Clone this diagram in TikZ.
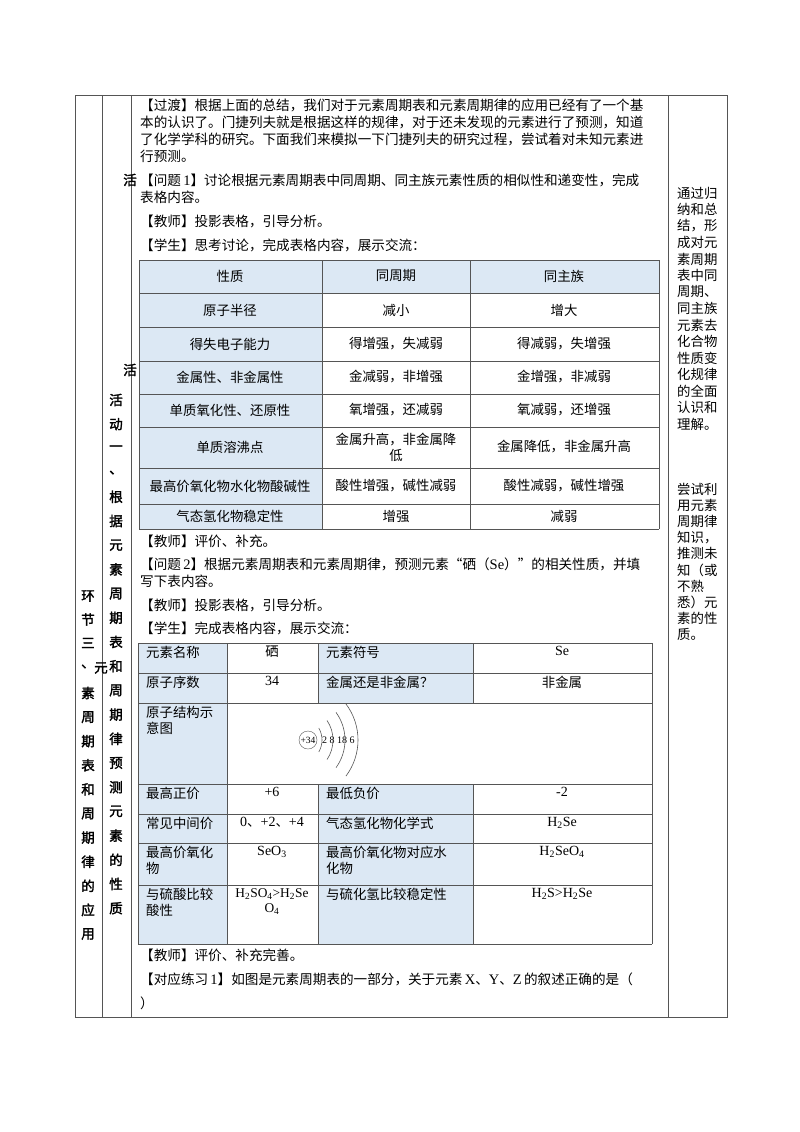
\documentclass[tikz,border=0pt]{standalone}
\usepackage{fontspec}
\usetikzlibrary{calc}
\setmainfont{Noto Sans CJK SC}
\newfontfamily\cjkb[FakeBold=2]{Noto Sans CJK SC}
\newfontfamily\lat{Liberation Serif}
\definecolor{cellblue}{HTML}{DCE8F4}
\definecolor{rule}{HTML}{555555}
\begin{document}
\begin{tikzpicture}[x=1pt,y=-1pt,
  txt/.style={anchor=west,inner sep=0,font=\fontsize{13.6}{16}\selectfont},
  cc/.style={anchor=center,inner sep=0,font=\fontsize{13.4}{16}\selectfont,align=center},
  ct/.style={anchor=north,inner sep=0,font=\fontsize{13.4}{16}\selectfont,align=center},
  lt/.style={anchor=north west,inner sep=0,font=\fontsize{13.4}{16}\selectfont,align=left},
  vch/.style={anchor=center,inner sep=0,font=\cjkb\fontsize{13.5}{16}\selectfont},
  rc/.style={anchor=west,inner sep=0,font=\fontsize{13.4}{16}\selectfont},
  gl/.style={draw=rule,line width=0.8pt}]
\useasboundingbox (0,0) rectangle (800,1132);
\fill[white] (0,0) rectangle (800,1132);
% outer frame
\draw[gl] (75,95) rectangle (727,1017);
\draw[gl] (102,95) -- (102,1017);
\draw[gl] (131,95) -- (131,1017);
\draw[gl] (668,95) -- (668,1017);
% body text
\node[txt] (l1) at (140,105) {【过渡】根据上面的总结，我们对于元素周期表和元素周期律的应用已经有了一个基};
\node[txt] (l2) at (140,122) {本的认识了。门捷列夫就是根据这样的规律，对于还未发现的元素进行了预测，知道};
\node[txt] (l3) at (140,139) {了化学学科的研究。下面我们来模拟一下门捷列夫的研究过程，尝试着对未知元素进};
\node[txt] (l4) at (140,156) {行预测。};
\node[vch] (huo1) at (130,180) {活};
\node[txt] (l5) at (140,180) {【问题\,{\lat\fontsize{14.5}{16}\selectfont 1}】讨论根据元素周期表中同周期、同主族元素性质的相似性和递变性，完成};
\node[txt] (l6) at (140,197) {表格内容。};
\node[txt] (l7) at (140,221) {【教师】投影表格，引导分析。};
\node[txt] (l8) at (140,245) {【学生】思考讨论，完成表格内容，展示交流：};
% table 1
\fill[cellblue] (139,260) rectangle (659,293);
\fill[cellblue] (139,293) rectangle (322,529);
\foreach \y in {260,293,327,361,394,427,468,504,529} \draw[gl] (139,\y) -- (659,\y);
\foreach \x in {139,322,470,659} \draw[gl] (\x,260) -- (\x,529);
\node[cc] (a1) at (230,276) {性质};
\node[cc] (a2) at (396,276) {同周期};
\node[cc] (a3) at (564,276) {同主族};
\node[cc] (b1) at (230,310) {原子半径};
\node[cc] (b2) at (396,310) {减小};
\node[cc] (b3) at (564,310) {增大};
\node[cc] (c1) at (230,344) {得失电子能力};
\node[cc] (c2) at (396,344) {得增强，失减弱};
\node[cc] (c3) at (564,344) {得减弱，失增强};
\node[cc] (d1) at (230,377) {金属性、非金属性};
\node[cc] (d2) at (396,377) {金减弱，非增强};
\node[cc] (d3) at (564,377) {金增强，非减弱};
\node[cc] (e1) at (230,410) {单质氧化性、还原性};
\node[cc] (e2) at (396,410) {氧增强，还减弱};
\node[cc] (e3) at (564,410) {氧减弱，还增强};
\node[cc] (f1) at (230,447) {单质溶沸点};
\node[cc] (f2) at (396,447) {金属升高，非金属降\\低};
\node[cc] (f3) at (564,447) {金属降低，非金属升高};
\node[cc] (g1) at (230,486) {最高价氧化物水化物酸碱性};
\node[cc] (g2) at (396,486) {酸性增强，碱性减弱};
\node[cc] (g3) at (564,486) {酸性减弱，碱性增强};
\node[cc] (h1) at (230,516) {气态氢化物稳定性};
\node[cc] (h2) at (396,516) {增强};
\node[cc] (h3) at (564,516) {减弱};
\node[vch] (huo2) at (130,370) {活};
\node[txt] (m1) at (140,541) {【教师】评价、补充。};
\node[txt] (m2) at (140,564) {【问题\,{\lat\fontsize{14.5}{16}\selectfont 2}】根据元素周期表和元素周期律，预测元素“硒（{\lat\fontsize{14.5}{16}\selectfont Se}）”的相关性质，并填};
\node[txt] (m3) at (140,581) {写下表内容。};
\node[txt] (m4) at (140,605) {【教师】投影表格，引导分析。};
\node[txt] (m5) at (140,628) {【学生】完成表格内容，展示交流：};
% table 2
\fill[cellblue] (138,643) rectangle (227,944);
\fill[cellblue] (318,643) rectangle (473,703);
\fill[cellblue] (318,784) rectangle (473,944);
\foreach \y in {643,673,703,784,814,843,885,944} \draw[gl] (138,\y) -- (652,\y);
\draw[gl] (138,643) -- (138,944);
\draw[gl] (227,643) -- (227,944);
\draw[gl] (652,643) -- (652,944);
\draw[gl] (318,643) -- (318,703);
\draw[gl] (473,643) -- (473,703);
\draw[gl] (318,784) -- (318,944);
\draw[gl] (473,784) -- (473,944);
\tikzset{lf/.style={font=\lat\fontsize{14}{15}\selectfont}}
\node[lt] (r1) at (146,646) {元素名称};
\node[ct] (r2) at (272,646) {硒};
\node[lt] (r3) at (326,646) {元素符号};
\node[ct,lf] (r4) at (562,646) {Se};
\node[lt] (s1) at (146,676) {原子序数};
\node[ct,lf] (s2) at (272,676) {34};
\node[lt] (s3) at (326,676) {金属还是非金属？};
\node[ct] (s4) at (562,676) {非金属};
\node[lt] (t1) at (146,706) {原子结构示\\意图};
% atom diagram
\node[draw=rule,circle,inner sep=0,minimum size=18pt,font=\lat\fontsize{9.5}{10}\selectfont] (nuc) at (308,740) {+34};
\node[anchor=west,inner sep=0,font=\lat\fontsize{10}{10}\selectfont] (shell) at (322,740) {2 8 18 6};
\foreach \r/\a in {24/30,35/34,47/36,60/37}
  \draw[rule,line width=0.6pt] ($(298,740)+(-\a:\r)$) arc[start angle=-\a,end angle=\a,radius=\r];
\node[lt] (u1) at (146,787) {最高正价};
\node[ct,lf] (u2) at (272,787) {+6};
\node[lt] (u3) at (326,787) {最低负价};
\node[ct,lf] (u4) at (562,787) {-2};
\node[lt] (v1) at (146,817) {常见中间价};
\node[ct] (v2) at (272,817) {{\lat\fontsize{14}{15}\selectfont 0}、{\lat\fontsize{14}{15}\selectfont +2}、{\lat\fontsize{14}{15}\selectfont +4}};
\node[lt] (v3) at (326,817) {气态氢化物化学式};
\node[ct,lf] (v4) at (562,817) {H\textsubscript{2}Se};
\node[lt] (w1) at (146,846) {最高价氧化\\物};
\node[ct,lf] (w2) at (272,846) {SeO\textsubscript{3}};
\node[lt] (w3) at (326,846) {最高价氧化物对应水\\化物};
\node[ct,lf] (w4) at (562,846) {H\textsubscript{2}SeO\textsubscript{4}};
\node[lt] (x1) at (146,888) {与硫酸比较\\酸性};
\node[ct,font=\lat\fontsize{13.4}{15}\selectfont] (x2) at (272,888) {H\textsubscript{2}SO\textsubscript{4}>H\textsubscript{2}Se\\O\textsubscript{4}};
\node[lt] (x3) at (326,888) {与硫化氢比较稳定性};
\node[ct,lf] (x4) at (562,888) {H\textsubscript{2}S>H\textsubscript{2}Se};
\node[txt] (n1) at (140,955) {【教师】评价、补充完善。};
\node[txt] (n2) at (140,979) {【对应练习\,{\lat\fontsize{14.5}{16}\selectfont 1}】如图是元素周期表的一部分，关于元素\,{\lat\fontsize{14.5}{16}\selectfont X}、{\lat\fontsize{14.5}{16}\selectfont Y}、{\lat\fontsize{14.5}{16}\selectfont Z}\,的叙述正确的是（};
\node[txt] (n3) at (140,1003) {）};
% column 2 vertical
\foreach \ch [count=\i from 0] in {活,动,一,、,根,据,元,素,周,期,表,和,周,期,律,预,测,元,素,的,性,质}
  \node[vch] (vb\i) at (116,{400+24.2*\i}) {\ch};
% column 1 vertical
\foreach \ch [count=\i from 0] in {环,节,三,、}
  \node[vch] (va\i) at (88,{596+23.5*\i}) {\ch};
\node[vch] (vyuan) at (101,668) {元};
\foreach \ch [count=\i from 0] in {素,周,期,表,和,周,期,律,的,应,用}
  \node[vch] (vc\i) at (88,{693+24.1*\i}) {\ch};
% right column
\foreach \t [count=\i from 0] in {通过归,纳和总,结，形,成对元,素周期,表中同,周期、,同主族,元素去,化合物,性质变,化规律,的全面,认识和,理解。}
  \node[rc] (ra\i) at (677,{193+16.5*\i}) {\t};
\foreach \t [count=\i from 0] in {尝试利,用元素,周期律,知识，,推测未,知（或,不熟,悉）元,素的性,质。}
  \node[rc] (rb\i) at (677,{489+16.2*\i}) {\t};
\end{tikzpicture}
\end{document}
